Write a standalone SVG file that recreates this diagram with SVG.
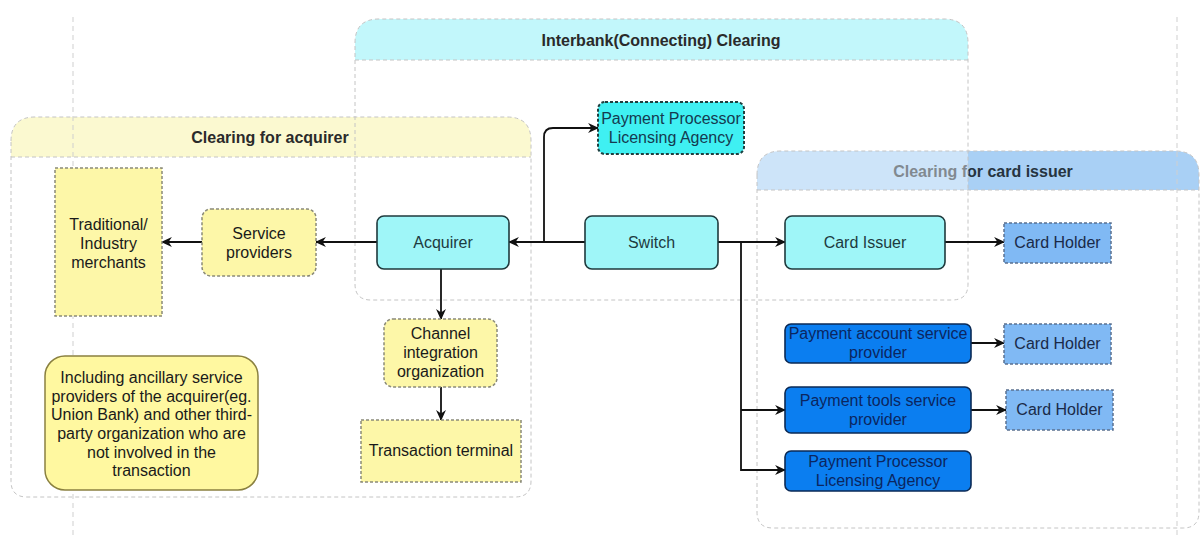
<svg xmlns="http://www.w3.org/2000/svg" width="1201" height="537" viewBox="0 0 1201 537">
<defs>
<style>
text{font-family:"Liberation Sans",Arial,sans-serif;font-size:16px;text-anchor:middle}
.hdr{font-weight:bold;fill:#2a2a2a}
.cstroke{fill:none;stroke:#c4c4c4;stroke-width:1;stroke-dasharray:4 3}
.guide{fill:none;stroke:#cfcfcf;stroke-width:1;stroke-dasharray:5 4}
.cyan{fill:#9ff6f8;stroke:#1f3a3d;stroke-width:1.6}
.cyantxt{fill:#1d3b3f}
.ppla{fill:#3ff0f2;stroke:#1f4040;stroke-width:2;stroke-dasharray:3 2}
.blue{fill:#0b7ef0;stroke:#0b2a55;stroke-width:1.6}
.bluetxt{fill:#0b2660}
.holder{fill:#80b9f4;stroke:#5a7090;stroke-width:1.5;stroke-dasharray:3 2}
.holdertxt{fill:#1a2a48}
.yel{fill:#fdf7a8;stroke:#8a8a78;stroke-width:1.5;stroke-dasharray:3 2}
.yeltxt{fill:#1a1a1a}
.note{fill:#fff8a0;stroke:#8a8040;stroke-width:1.5}
.conn{fill:none;stroke:#111;stroke-width:1.8}
</style>
<marker id="arr" viewBox="0 0 10 10" refX="9" refY="5" markerWidth="11" markerHeight="11" markerUnits="userSpaceOnUse" orient="auto">
<path d="M0,0.5 L10,5 L0,9.5 L3,5 Z" fill="#111"/>
</marker>
</defs>

<g id="containers">
<path d="M757,190 V175 Q757,151 781,151 H1175 Q1199,151 1199,175 V190 Z" fill="#a9d0f5"/>
<text class="hdr" x="983" y="177" style="fill:#263440">Clearing for card issuer</text>
<path d="M355,60 H968 V284 Q968,300 952,300 H371 Q355,300 355,284 Z" fill="#ffffff" fill-opacity="0.42"/>
<path d="M355,60 V43 Q355,19 379,19 H944 Q968,19 968,43 V60 Z" fill="#c2f7fb"/>
<text class="hdr" x="661" y="46">Interbank(Connecting) Clearing</text>
<path d="M11,157 V141 Q11,117 35,117 H507 Q531,117 531,141 V157 Z" fill="#fbf9d0"/>
<text class="hdr" x="270" y="143">Clearing for acquirer</text>
<path class="cstroke" d="M757,175 Q757,151 781,151 H1175 Q1199,151 1199,175 V512 Q1199,528 1183,528 H773 Q757,528 757,512 Z"/>
<path class="cstroke" d="M757,190 H1199"/>
<path class="cstroke" d="M355,43 Q355,19 379,19 H944 Q968,19 968,43 V284 Q968,300 952,300 H371 Q355,300 355,284 Z"/>
<path class="cstroke" d="M355,60 H968"/>
<path class="cstroke" d="M11,141 Q11,117 35,117 H507 Q531,117 531,141 V481 Q531,497 515,497 H27 Q11,497 11,481 Z"/>
<path class="cstroke" d="M11,157 H531"/>
<path class="guide" d="M73,17 V537"/>
<path class="guide" d="M1177,17 V537"/>
</g>

<g id="connectors">
<path class="conn" d="M585,242 H509" marker-end="url(#arr)"/>
<path class="conn" d="M544,242 V137 Q544,128 553,128 H598" marker-end="url(#arr)"/>
<path class="conn" d="M377,242 H316" marker-end="url(#arr)"/>
<path class="conn" d="M202,242 H162" marker-end="url(#arr)"/>
<path class="conn" d="M441,269 V319" marker-end="url(#arr)"/>
<path class="conn" d="M441,387 V420" marker-end="url(#arr)"/>
<path class="conn" d="M718,242 H785" marker-end="url(#arr)"/>
<path class="conn" d="M945,242 H1004" marker-end="url(#arr)"/>
<path class="conn" d="M741,242 V470 H785" marker-end="url(#arr)"/>
<path class="conn" d="M741,410 H785" marker-end="url(#arr)"/>
<path class="conn" d="M971,343 H1004" marker-end="url(#arr)"/>
<path class="conn" d="M971,410 H1006" marker-end="url(#arr)"/>
</g>

<g id="traditional">
<rect class="yel" x="55" y="168" width="107" height="148"/>
<text class="yeltxt" x="108.5" y="230">Traditional/</text>
<text class="yeltxt" x="108.5" y="249">Industry</text>
<text class="yeltxt" x="108.5" y="268">merchants</text>
</g>
<g id="service">
<rect class="yel" x="202" y="209" width="114" height="67" rx="9"/>
<text class="yeltxt" x="259" y="239">Service</text>
<text class="yeltxt" x="259" y="258">providers</text>
</g>
<g id="acquirer">
<rect class="cyan" x="377" y="216" width="132" height="53" rx="7"/>
<text class="cyantxt" x="443" y="248">Acquirer</text>
</g>
<g id="switch">
<rect class="cyan" x="585" y="216" width="133" height="53" rx="7"/>
<text class="cyantxt" x="651.5" y="248">Switch</text>
</g>
<g id="card-issuer">
<rect class="cyan" x="785" y="216" width="160" height="53" rx="7"/>
<text class="cyantxt" x="865" y="248">Card Issuer</text>
</g>
<g id="ppla-top">
<rect class="ppla" x="598" y="102" width="146" height="52" rx="7"/>
<text class="cyantxt" x="671" y="124" style="fill:#153a50">Payment Processor</text>
<text class="cyantxt" x="671" y="143" style="fill:#153a50">Licensing Agency</text>
</g>
<g id="card-holder-1">
<rect class="holder" x="1004" y="223" width="107" height="40"/>
<text class="holdertxt" x="1057.5" y="248">Card Holder</text>
</g>
<g id="channel">
<rect class="yel" x="384" y="319" width="113" height="68" rx="9"/>
<text class="yeltxt" x="440.5" y="339">Channel</text>
<text class="yeltxt" x="440.5" y="358">integration</text>
<text class="yeltxt" x="440.5" y="377">organization</text>
</g>
<g id="terminal">
<rect class="yel" x="361" y="420" width="160" height="62"/>
<text class="yeltxt" x="441" y="456">Transaction terminal</text>
</g>
<g id="note">
<rect class="note" x="45" y="356" width="213" height="134" rx="20"/>
<text class="yeltxt" x="151.5" y="383">Including ancillary service</text>
<text class="yeltxt" x="151.5" y="402">providers of the acquirer(eg.</text>
<text class="yeltxt" x="151.5" y="420">Union Bank) and other third-</text>
<text class="yeltxt" x="151.5" y="439">party organization who are</text>
<text class="yeltxt" x="151.5" y="458">not involved in the</text>
<text class="yeltxt" x="151.5" y="476">transaction</text>
</g>
<g id="pay-account">
<rect class="blue" x="785" y="324" width="186" height="39" rx="6"/>
<text class="bluetxt" x="878" y="339">Payment account service</text>
<text class="bluetxt" x="878" y="358">provider</text>
</g>
<g id="card-holder-2">
<rect class="holder" x="1004" y="324" width="107" height="40"/>
<text class="holdertxt" x="1057.5" y="349">Card Holder</text>
</g>
<g id="pay-tools">
<rect class="blue" x="785" y="387" width="186" height="46" rx="6"/>
<text class="bluetxt" x="878" y="406">Payment tools service</text>
<text class="bluetxt" x="878" y="425">provider</text>
</g>
<g id="card-holder-3">
<rect class="holder" x="1006" y="390" width="107" height="40"/>
<text class="holdertxt" x="1059.5" y="415">Card Holder</text>
</g>
<g id="ppla-blue">
<rect class="blue" x="785" y="451" width="186" height="40" rx="6"/>
<text class="bluetxt" x="878" y="467">Payment Processor</text>
<text class="bluetxt" x="878" y="486">Licensing Agency</text>
</g>
</svg>
